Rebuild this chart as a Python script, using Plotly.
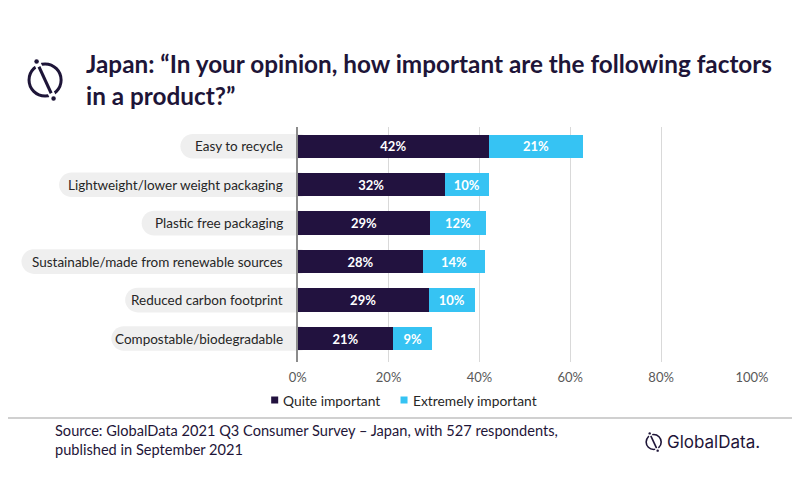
import plotly.graph_objects as go

categories = ["Easy to recycle", "Lightweight/lower weight packaging", "Plastic free packaging",
              "Sustainable/made from renewable sources", "Reduced carbon footprint",
              "Compostable/biodegradable"]
quite_important = [42.1, 32.4, 29.2, 27.6, 28.8, 21.0]
extremely_important = [20.7, 9.6, 12.2, 13.6, 10.2, 8.6]
series_names = ["Quite important", "Extremely important"]
x_ticks = [0, 20, 40, 60, 80, 100]
x_tick_labels = ["0%", "20%", "40%", "60%", "80%", "100%"]

DARK = "#22123F"
LIGHT = "#36C3F3"
NAVY = "#1E1538"
FONT = "Lato"

W, H = 784, 500
# empirical mapping from target pixels to paper coordinates in the rendered page
AX, BX = 18, 756
OY = 8
def px(x): return (x - AX) / BX
def py(y): return 1 - (y - OY) / H

fig = go.Figure()
for name, vals, col in [(series_names[0], quite_important, DARK),
                        (series_names[1], extremely_important, LIGHT)]:
    fig.add_trace(go.Bar(
        y=categories, x=vals, orientation="h", name=name,
        marker=dict(color=col, line=dict(width=0)), width=0.61,
        text=[f"{round(v)}%" for v in vals], textposition="inside",
        insidetextanchor="middle", textangle=0,
        textfont=dict(color="white", size=13, family=FONT, weight="bold"),
        hoverinfo="skip", showlegend=False))

shapes = []
annotations = []

def text_width(s, size=13.5):
    w = 0
    for c in s:
        if c in "ijl|": w += 0.23
        elif c in "ftr/ ": w += 0.32
        elif c in "mw": w += 0.8
        elif c.isupper(): w += 0.63
        else: w += 0.52
    return w * size

label_right = 285
hh = 0.32
for i, cat in enumerate(categories):
    tw = text_width(cat)
    x0 = px(label_right - tw - 12)
    x1 = px(312)
    r = 12.5 / BX
    y0, y1, ym = i - hh, i + hh, i
    k = 0.55
    path = (f"M {x0 + r},{y0} L {x1 - r},{y0} "
            f"C {x1 - r*(1-k)},{y0} {x1},{ym - hh*k} {x1},{ym} "
            f"C {x1},{ym + hh*k} {x1 - r*(1-k)},{y1} {x1 - r},{y1} "
            f"L {x0 + r},{y1} "
            f"C {x0 + r*(1-k)},{y1} {x0},{ym + hh*k} {x0},{ym} "
            f"C {x0},{ym - hh*k} {x0 + r*(1-k)},{y0} {x0 + r},{y0} Z")
    shapes.append(dict(type="path", path=path, xref="paper", yref="y",
                       fillcolor="#EFEFEF", line=dict(width=0), layer="below"))
    annotations.append(dict(x=px(label_right), y=cat, xref="paper", yref="y",
                            text=cat, showarrow=False, xanchor="right", yanchor="middle",
                            font=dict(family=FONT, size=13.5, color="#262626")))

def logo(cx, cy, r, lw):
    out = []
    out.append(dict(type="circle", xref="paper", yref="paper",
                    x0=px(cx - r), x1=px(cx + r), y0=py(cy + r), y1=py(cy - r),
                    line=dict(color=NAVY, width=lw), fillcolor="rgba(0,0,0,0)"))
    dx, dy = 0.46 * r * 1.15, 1.0 * r * 1.15
    out.append(dict(type="line", xref="paper", yref="paper",
                    x0=px(cx - dx * 1.05), y0=py(cy - dy * 1.05),
                    x1=px(cx + dx * 1.05), y1=py(cy + dy * 1.05),
                    line=dict(color="white", width=lw * 2.2)))
    out.append(dict(type="line", xref="paper", yref="paper",
                    x0=px(cx - dx * 0.72), y0=py(cy - dy * 0.72),
                    x1=px(cx + dx * 0.72), y1=py(cy + dy * 0.72),
                    line=dict(color=NAVY, width=lw)))
    d = lw * 0.75
    for sgn in (-1, 1):
        ex, ey = cx + sgn * dx, cy + sgn * dy
        out.append(dict(type="circle", xref="paper", yref="paper",
                        x0=px(ex - d), x1=px(ex + d), y0=py(ey + d), y1=py(ey - d),
                        line=dict(width=0), fillcolor=NAVY))
    return out

shapes += logo(46, 80, 16, 3)
shapes += logo(653, 442, 7.5, 1.6)

# footer rule
shapes.append(dict(type="line", xref="paper", yref="paper", x0=px(0), x1=px(800),
                   y0=py(418), y1=py(418), line=dict(color="#C0C0C0", width=1.5)))

# manual legend
leg = [(series_names[0], DARK, 275), (series_names[1], LIGHT, 404)]
for name, col, cx in leg:
    s = 3.5
    shapes.append(dict(type="rect", xref="paper", yref="paper",
                       x0=px(cx - s), x1=px(cx + s), y0=py(400 + s), y1=py(400 - s),
                       fillcolor=col, line=dict(width=0)))
    annotations.append(dict(x=px(cx + s + 3), y=py(400), xref="paper", yref="paper",
                            text=name, showarrow=False, xanchor="left", yanchor="middle",
                            font=dict(family=FONT, size=13.8, color="#262626")))

title_text = ("Japan: “In your opinion, how important are the following factors<br>"
              "in a product?”")
annotations.append(dict(x=px(85), y=py(79), xref="paper", yref="paper",
                        text=title_text, showarrow=False, xanchor="left", yanchor="middle",
                        align="left",
                        font=dict(family=FONT, size=24.3, color=NAVY, weight="bold")))

source_text = ("Source: GlobalData 2021 Q3 Consumer Survey – Japan, with 527 respondents,<br>"
               "published in September 2021")
annotations.append(dict(x=px(54), y=py(440), xref="paper", yref="paper",
                        text=source_text, showarrow=False, xanchor="left", yanchor="middle",
                        align="left",
                        font=dict(family=FONT, size=14.6, color=NAVY)))

annotations.append(dict(x=px(664), y=py(442), xref="paper", yref="paper",
                        text="GlobalData.", showarrow=False, xanchor="left", yanchor="middle",
                        font=dict(family="Inter", size=17, color=NAVY)))

fig.update_layout(
    width=W, height=H, barmode="stack",
    margin=dict(l=0, r=0, t=0, b=0),
    paper_bgcolor="white", plot_bgcolor="white",
    xaxis=dict(domain=[px(298), px(751)], range=[0, 100], tickvals=x_ticks,
               ticktext=x_tick_labels, showgrid=True, gridcolor="#D9D9D9", gridwidth=1,
               zeroline=False, showline=False, ticks="",
               tickfont=dict(family=FONT, size=13, color="#595959"),
               ticklabelstandoff=6, fixedrange=True),
    yaxis=dict(domain=[py(362), py(127)], range=[5.61, -0.5], showticklabels=False,
               showgrid=False, zeroline=False, showline=True, linecolor="#8C8C8C",
               linewidth=1.5, ticks="", fixedrange=True),
    showlegend=False,
    shapes=shapes, annotations=annotations,
)

fig.write_html("out.html")
